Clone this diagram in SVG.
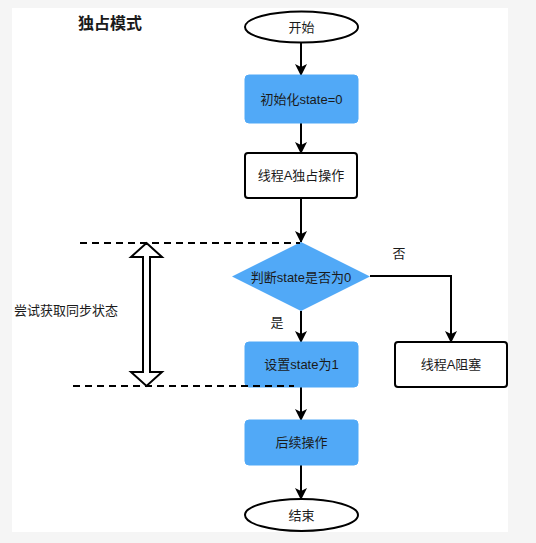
<svg xmlns="http://www.w3.org/2000/svg" width="536" height="543" viewBox="0 0 536 543">
<defs>
<style>
.t{font-family:"Liberation Sans","Noto Sans CJK SC",sans-serif;font-size:13px;fill:#1a1a1a;text-anchor:middle;dominant-baseline:central}
.blue{fill:#51a9f7;stroke:#51a9f7;stroke-width:1}
.wbox{fill:#fff;stroke:#000;stroke-width:2}
.conn{fill:none;stroke:#000;stroke-width:2}
.dash{fill:none;stroke:#000;stroke-width:2;stroke-dasharray:7 5}
</style>
<marker id="ah" markerUnits="userSpaceOnUse" viewBox="0 0 12 12" refX="11" refY="6" markerWidth="12" markerHeight="12" orient="auto">
<path d="M0,0 L12,6 L0,12 L3,6 z" fill="#000"/>
</marker>
</defs>
<rect x="0" y="0" width="536" height="543" fill="#f5f5f5"/>
<rect x="12" y="8" width="496" height="524" fill="#fff"/>
<text x="110" y="23" class="t" style="font-size:16px;font-weight:bold">独占模式</text>
<g id="connectors">
<line x1="301" y1="43" x2="301" y2="75" class="conn" marker-end="url(#ah)"/>
<line x1="301" y1="123" x2="301" y2="153" class="conn" marker-end="url(#ah)"/>
<line x1="301" y1="198" x2="301" y2="242" class="conn" marker-end="url(#ah)"/>
<line x1="301" y1="311" x2="301" y2="342" class="conn" marker-end="url(#ah)"/>
<polyline points="370,276 451,276 451,342" class="conn" marker-end="url(#ah)"/>
<line x1="301" y1="387" x2="301" y2="420" class="conn" marker-end="url(#ah)"/>
<line x1="301" y1="465" x2="301" y2="499" class="conn" marker-end="url(#ah)"/>
<text x="277" y="322" class="t">是</text>
<text x="399" y="253" class="t">否</text>
</g>
<g id="start">
<ellipse cx="301.5" cy="27" rx="56.5" ry="15.5" class="wbox"/>
<text x="301.5" y="27" class="t">开始</text>
</g>
<g id="init">
<rect x="245" y="75" width="113" height="48" rx="4" class="blue"/>
<text x="301.5" y="99" class="t">初始化state=0</text>
</g>
<g id="threadA">
<rect x="245" y="153" width="112" height="45" rx="3" class="wbox"/>
<text x="301" y="175.5" class="t">线程A独占操作</text>
</g>
<g id="decision">
<polygon points="301,242 370,276.5 301,311 232,276.5" fill="#51a9f7"/>
<text x="301" y="277" class="t">判断state是否为0</text>
</g>
<g id="set1">
<rect x="245" y="342" width="113" height="45" rx="4" class="blue"/>
<text x="301.5" y="364.5" class="t">设置state为1</text>
</g>
<g id="blocked">
<rect x="395" y="342" width="112" height="45" rx="3" class="wbox"/>
<text x="451" y="364.5" class="t">线程A阻塞</text>
</g>
<g id="next">
<rect x="245" y="420" width="113" height="45" rx="4" class="blue"/>
<text x="301.5" y="442.5" class="t">后续操作</text>
</g>
<g id="end">
<ellipse cx="301.5" cy="515" rx="56.5" ry="16" class="wbox"/>
<text x="301.5" y="515" class="t">结束</text>
</g>
<g id="guides">
<line x1="80" y1="243" x2="300" y2="243" class="dash"/>
<line x1="73" y1="386" x2="294" y2="386" class="dash"/>
<polygon points="146.5,243 162,257 150,257 150,372 162,372 146.5,386 131,372 143,372 143,257 131,257" fill="#fff" stroke="#000" stroke-width="2" stroke-linejoin="miter"/>
<text x="66" y="310" class="t">尝试获取同步状态</text>
</g>
</svg>
